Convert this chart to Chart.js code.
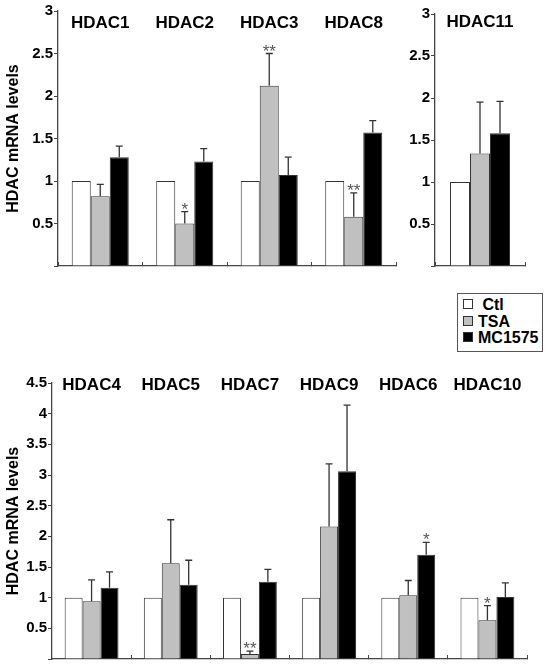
<!DOCTYPE html>
<html>
<head>
<meta charset="utf-8">
<script src="https://cdn.jsdelivr.net/npm/chart.js@4.4.1/dist/chart.umd.min.js"></script>
<style>
  body { margin: 0; background: #fff; overflow: hidden; }
  #page { position: relative; width: 547px; height: 665px; font-family: "Liberation Sans", Arial, sans-serif; }
  .box { position: absolute; }
  #legend { position: absolute; left: 457px; top: 293px; width: 84px; height: 54px; border: 1px solid #555;
            font-weight: bold; font-size: 16px; line-height: 16.5px; padding-top: 3px; box-sizing: content-box; }
  #legend div { white-space: nowrap; padding-left: 5px; }
  #legend span { display: inline-block; width: 8px; height: 8px; border: 1px solid #333; margin-right: 5px; vertical-align: 1px; }
</style>
</head>
<body>
<div id="page">
  <div class="box" style="left:0;top:0"><canvas id="c1" width="400" height="280"></canvas></div>
  <div class="box" style="left:400px;top:0"><canvas id="c2" width="147" height="280"></canvas></div>
  <div class="box" style="left:0;top:365px"><canvas id="c3" width="547" height="300"></canvas></div>
  <div id="legend"></div>
</div>
<script>
// series names and colours
const seriesNames = ["Ctl", "TSA", "MC1575"];
const seriesColors = ["#ffffff", "#c0c0c0", "#000000"];

// top left panel
const genesA = ["HDAC1", "HDAC2", "HDAC3", "HDAC8"];
const ctlA = [1, 1, 1, 1];
const tsaA = [0.82, 0.50, 2.12, 0.58];
const tsaErrA = [0.14, 0.14, 0.38, 0.28];
const mcA = [1.28, 1.23, 1.07, 1.57];
const mcErrA = [0.13, 0.15, 0.21, 0.14];
const tsaSigA = ["", "*", "**", "**"];
const mcSigA = ["", "", "", ""];

// top right panel
const genesB = ["HDAC11"];
const ctlB = [1];
const tsaB = [1.34];
const tsaErrB = [0.61];
const mcB = [1.58];
const mcErrB = [0.38];
const tsaSigB = [""];
const mcSigB = [""];

// bottom panel
const genesC = ["HDAC4", "HDAC5", "HDAC7", "HDAC9", "HDAC6", "HDAC10"];
const ctlC = [1, 1, 1, 1, 1, 1];
const tsaC = [0.94, 1.56, 0.08, 2.16, 1.04, 0.63];
const tsaErrC = [0.35, 0.71, 0.05, 1.02, 0.24, 0.24];
const mcC = [1.16, 1.21, 1.26, 3.06, 1.70, 1.01];
const mcErrC = [0.26, 0.40, 0.20, 1.08, 0.20, 0.23];
const tsaSigC = ["", "", "**", "", "", "*"];
const mcSigC = ["", "", "", "", "*", ""];

const yTicksTop = [0.5, 1, 1.5, 2, 2.5, 3];
const yTicksBottom = [0.5, 1, 1.5, 2, 2.5, 3, 3.5, 4, 4.5];

const FONT = "'Liberation Sans', Arial, sans-serif";
const AXIS = "#444";

// upward error bars with caps, plus significance stars
const errorBars = {
    id: "errorBars",
    afterDatasetsDraw(chart) {
        const ctx = chart.ctx;
        const y = chart.scales.y;
        chart.data.datasets.forEach((ds, i) => {
            if (!ds.errors) return;
            const meta = chart.getDatasetMeta(i);
            meta.data.forEach((bar, j) => {
                const base = y.getPixelForValue(ds.data[j]);
                const top = y.getPixelForValue(ds.data[j] + ds.errors[j]);
                ctx.save();
                ctx.strokeStyle = "#333";
                ctx.lineWidth = 1.3;
                ctx.beginPath();
                ctx.moveTo(bar.x, base);
                ctx.lineTo(bar.x, top);
                ctx.moveTo(bar.x - 3.5, top);
                ctx.lineTo(bar.x + 3.5, top);
                ctx.stroke();
                const sig = ds.stars ? ds.stars[j] : "";
                if (sig) {
                    ctx.fillStyle = "#555";
                    ctx.font = "17px " + FONT;
                    ctx.textAlign = "center";
                    ctx.textBaseline = "alphabetic";
                    ctx.fillText(sig, bar.x, top + 3);
                }
                ctx.restore();
            });
        });
    }
};

// gene names written inside the plot, above each group
const groupTitles = {
    id: "groupTitles",
    afterDraw(chart, args, opts) {
        const ctx = chart.ctx;
        const x = chart.scales.x;
        ctx.save();
        ctx.fillStyle = "#000";
        ctx.font = "bold 17px " + FONT;
        ctx.textAlign = "center";
        ctx.textBaseline = "middle";
        chart.data.labels.forEach((label, i) => {
            ctx.fillText(label, x.getPixelForValue(i), chart.chartArea.top + opts.offset);
        });
        ctx.restore();
    }
};

function makeChart(id, labels, ctl, tsa, tsaErr, tsaSig, mc, mcErr, mcSig, cfg) {
    const values = [ctl, tsa, mc];
    const errs = [null, tsaErr, mcErr];
    const stars = [null, tsaSig, mcSig];
    return new Chart(document.getElementById(id), {
        type: "bar",
        data: {
            labels,
            datasets: seriesNames.map((name, i) => ({
                label: name,
                data: values[i],
                errors: errs[i],
                stars: stars[i],
                backgroundColor: seriesColors[i],
                borderColor: "#333",
                borderWidth: 1,
                categoryPercentage: cfg.catPct,
                barPercentage: 1.0,
            })),
        },
        options: {
            responsive: false,
            animation: false,
            layout: {padding: cfg.padding},
            plugins: {
                legend: {display: false},
                tooltip: {enabled: false},
                groupTitles: {offset: cfg.titleOffset},
            },
            scales: {
                x: {
                    grid: {display: true, drawOnChartArea: false, drawTicks: true, tickLength: -4, color: AXIS, lineWidth: 1},
                    border: {display: true, color: AXIS, width: 1.3},
                    ticks: {display: false},
                    afterFit: s => { s.height = 2; },
                },
                y: {
                    min: 0,
                    max: cfg.yMax,
                    afterBuildTicks: s => { s.ticks = [{value: 0}].concat(cfg.yTicks.map(v => ({value: v}))); },
                    grid: {display: true, drawOnChartArea: false, drawTicks: true, tickLength: 4, color: AXIS},
                    border: {display: true, color: AXIS, width: 1.3},
                    ticks: {
                        color: "#000",
                        padding: 1,
                        font: {family: FONT, size: 15, weight: "bold"},
                        callback: v => (v === 0 ? "" : String(v)),
                    },
                    title: {
                        display: cfg.yTitle,
                        text: "HDAC mRNA levels",
                        color: "#000",
                        font: {family: FONT, size: 16, weight: "bold"},
                        padding: {top: 4, bottom: 2},
                    },
                    afterFit: s => { s.width = cfg.yWidth; s.paddingBottom = 0; s.paddingTop = 0; },
                },
            },
        },
        plugins: [errorBars, groupTitles],
    });
}

makeChart("c1", genesA, ctlA, tsaA, tsaErrA, tsaSigA, mcA, mcErrA, mcSigA, {
    catPct: 0.675, yMax: 3, yTicks: yTicksTop, yTitle: true, yWidth: 58,
    padding: {left: 0, right: 4, top: 11, bottom: 12}, titleOffset: 12,
});
makeChart("c2", genesB, ctlB, tsaB, tsaErrB, tsaSigB, mcB, mcErrB, mcSigB, {
    catPct: 0.667, yMax: 3, yTicks: yTicksTop, yTitle: false, yWidth: 35,
    padding: {left: 0, right: 22, top: 14, bottom: 12}, titleOffset: 8,
});
makeChart("c3", genesC, ctlC, tsaC, tsaErrC, tsaSigC, mcC, mcErrC, mcSigC, {
    catPct: 0.68, yMax: 4.5, yTicks: yTicksBottom, yTitle: true, yWidth: 52,
    padding: {left: 0, right: 20, top: 18, bottom: 4}, titleOffset: 2,
});

// legend box
const legend = document.getElementById("legend");
seriesNames.forEach((name, i) => {
    const row = document.createElement("div");
    const sw = document.createElement("span");
    sw.style.background = seriesColors[i];
    row.appendChild(sw);
    row.appendChild(document.createTextNode(i === 0 ? " " + name : name));
    legend.appendChild(row);
});
</script>
</body>
</html>
